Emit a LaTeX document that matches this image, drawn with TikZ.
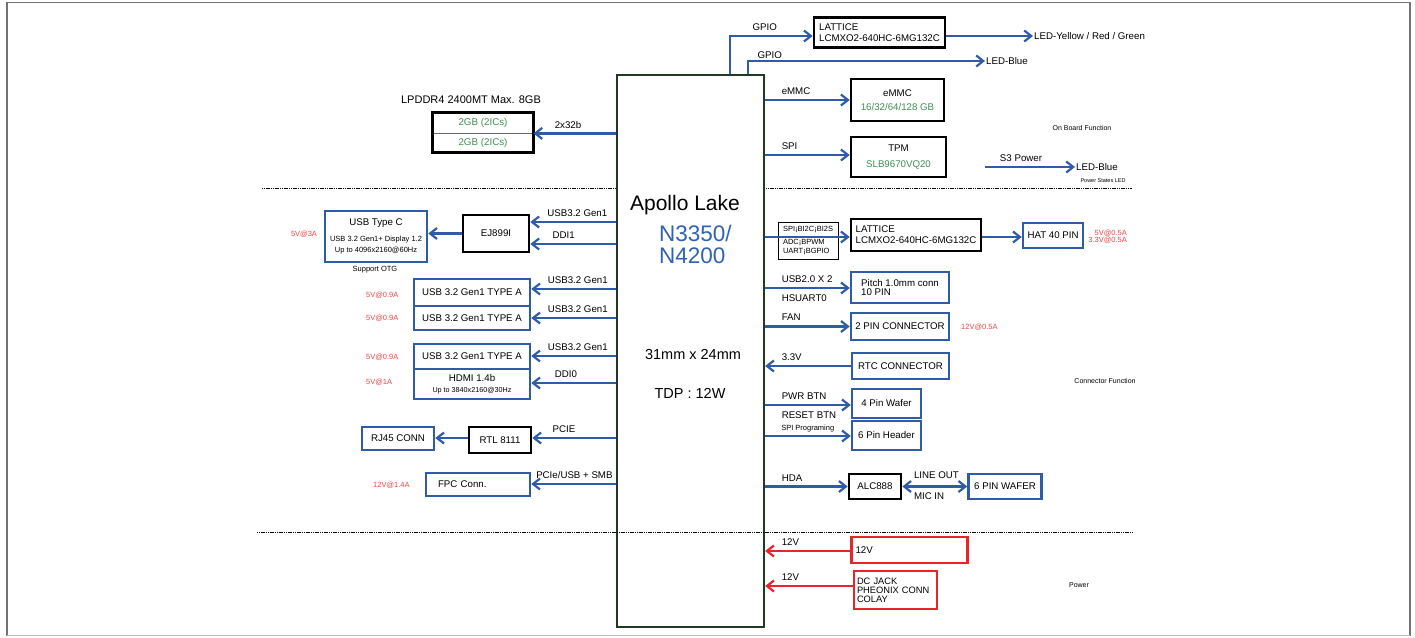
\documentclass[tikz,border=0pt]{standalone}
\usepackage{fontspec}
\setmainfont{Liberation Sans}
\usetikzlibrary{arrows.meta}

\definecolor{busblue}{HTML}{2E5CA8}
\definecolor{partgreen}{HTML}{3F8F4F}
\definecolor{ratered}{HTML}{F04545}
\definecolor{pwrred}{HTML}{E8262A}
\definecolor{socgreen}{HTML}{1F3A22}
\definecolor{numblue}{HTML}{2F62B3}

\newcommand{\sm}{\fontsize{7.5}{9}\selectfont}

\begin{document}
\begin{tikzpicture}[x=1pt,y=-1pt,
		barb/.tip={Straight Barb[length=7pt,width=11pt]},
		txt/.style={font=\fontsize{9.7}{11}\selectfont, inner sep=1.5pt},
		tiny/.style={font=\sm, inner sep=1pt},
		rate/.style={tiny, text=ratered},
		lbl/.style={txt, text height=7pt, text depth=2.5pt},
		rlbl/.style={lbl, above right, xshift=14pt},
		sz/.style 2 args={minimum width=#1pt, minimum height=#2pt},
		bus/.style={draw=busblue, line width=2.2pt, -barb},
		pwrbus/.style={bus, draw=pwrred},
		icbox/.style={txt, draw=black, line width=2.6pt, fill=white},
		conbox/.style={txt, draw=busblue, line width=2.5pt, fill=white},
		pwrbox/.style={txt, draw=pwrred, line width=2.5pt, fill=white},
		sep/.style={black, line width=0.6pt, dash pattern=on 1.2pt off 0.6pt}]
	\useasboundingbox (0,0) rectangle (1415,637);
	
	% Outer frame
	\draw[black!55, line width=1.5pt] (7,636) -- (7,2.5) -- (1410,2.5) -- (1410,636);
	\draw[black!25, line width=1.5pt] (7,635.5) -- (1410,635.5);
	
	% Upper separator, hidden by the SoC
	\draw[sep] (262,188) -- (1132,188);
	
	% The SoC
	\node[draw=socgreen, line width=2.3pt, fill=white, sz={147}{552}] (soc) at (690.5,351) {};
	\node[font=\fontsize{21}{24}\selectfont] (socname) at (685,205) {Apollo Lake};
	\node[font=\fontsize{22.5}{22}\selectfont, text=numblue, align=left, anchor=west, inner sep=0pt] (socsku) at (659,244) {N3350/\\N4200};
	\node[font=\fontsize{14.5}{16}\selectfont] (socsize) at (693,355) {31mm x 24mm};
	\node[font=\fontsize{14.5}{16}\selectfont] (soctdp) at (690,393) {TDP : 12W};
	
	% Memory
	\node[txt, font=\fontsize{11}{12}\selectfont] (ddrlbl) at (471,100) {LPDDR4 2400MT Max. 8GB};
	\node[txt, font=\fontsize{9.8}{11}\selectfont, text=partgreen, draw=black!60, line width=0.8pt, sz={100}{20}] (memA) at (483,123) {2GB (2ICs)};
	\node[txt, font=\fontsize{9.8}{11}\selectfont, text=partgreen, draw=black!60, line width=0.8pt, sz={100}{19}] (memB) at (483,142.5) {2GB (2ICs)};
	\draw[black, line width=2.6pt] (memA.north west) rectangle (memB.south east);
	\draw[bus] (soc.west |- memA.south east) -- (memA.south east) node[lbl, above, pos=.58] {2x32b};
	
	% On board functions
	\node[icbox, sz={131}{30}, align=left] (fpga1) at (879.5,32.5) {LATTICE\\LCMXO2-640HC-6MG132C};
	\node[txt, anchor=west, inner sep=1pt] (ledrgb) at (1033,36) {LED-Yellow / Red / Green};
	\node[txt, anchor=west, inner sep=1pt] (ledb1) at (985,61) {LED-Blue};
	\node[icbox, sz={93}{42}, align=center] (emmc) at (897.5,100) {eMMC\\[3pt]\textcolor{partgreen}{16/32/64/128 GB}};
	\node[icbox, sz={95}{40}, align=center] (tpm) at (898.5,157) {TPM\\[5pt]\textcolor{partgreen}{SLB9670VQ20}};
	\node[font=\fontsize{7}{8}\selectfont] (obf) at (1082,128) {On Board Function};
	\coordinate (s3) at (985,167);
	\node[txt, anchor=west, inner sep=1pt] (ledb2) at (1075,167) {LED-Blue};
	\node[font=\fontsize{5.5}{6}\selectfont] (psled) at (1103,181) {Power States LED};
	
	\draw[bus] (soc.north -| 730,0) |- (fpga1.west |- 0,36) node[lbl, above, pos=.71] {GPIO};
	\draw[bus] (fpga1.east |- ledrgb.west) -- (ledrgb.west);
	\draw[bus] (soc.north -| 748,0) |- (ledb1.west) node[lbl, above, pos=.546, yshift=-2.5pt] {GPIO};
	\draw[bus] (soc.east |- emmc.west) -- (emmc.west) node[rlbl, pos=0] {eMMC};
	\draw[bus] (soc.east |- 0,155) -- (tpm.west |- 0,155) node[rlbl, pos=0] {SPI};
	\draw[bus] (s3) -- (ledb2.west) node[lbl, above, pos=.4] {S3 Power};
	
	% USB type C and type A ports
	\node[rate] (usbcpwr) at (304,234) {5V@3A};
	\node[conbox, sz={102}{51}, align=center] (usbc) at (376,236.5) {USB Type C\\[5pt]\sm USB 3.2 Gen1+ Display 1.2\\\sm Up to 4096x2160@60Hz};
	\node[tiny] (otg) at (375,270) {Support OTG};
	\node[icbox, sz={66}{37}] (ej) at (496,233.5) {EJ899I};
	\draw[bus] (soc.west |- 0,222) -- (ej.east |- 0,222) node[lbl, above, pos=.45] {USB3.2 Gen1};
	\draw[bus] (soc.west |- 0,244) -- (ej.east |- 0,244) node[lbl, above, pos=.61] {DDI1};
	\draw[bus] (ej.west) -- (usbc.east |- ej.west);
	
	\node[conbox, sz={116}{27}] (usba1) at (472,292.5) {USB 3.2 Gen1 TYPE A};
	\node[conbox, sz={116}{24}] (usba2) at (472,318) {USB 3.2 Gen1 TYPE A};
	\node[conbox, sz={116}{25}] (usba3) at (472,356.5) {USB 3.2 Gen1 TYPE A};
	\node[conbox, sz={116}{30}, align=center] (hdmi) at (472,384) {HDMI 1.4b\\\fontsize{7.2}{9}\selectfont Up to 3840x2160@30Hz};
	\node[rate, anchor=west] (usba1pwr) at (365,295) {5V@0.9A};
	\node[rate, anchor=west] (usba2pwr) at (365,318) {5V@0.9A};
	\node[rate, anchor=west] (usba3pwr) at (365,357) {5V@0.9A};
	\node[rate, anchor=west] (hdmipwr) at (365,382) {5V@1A};
	\draw[bus] (soc.west |- 0,289) -- (usba1.east |- 0,289) node[lbl, above, pos=.45] {USB3.2 Gen1};
	\draw[bus] (soc.west |- 0,318) -- (usba2.east |- 0,318) node[lbl, above, pos=.45] {USB3.2 Gen1};
	\draw[bus] (soc.west |- 0,356) -- (usba3.east |- 0,356) node[lbl, above, pos=.45] {USB3.2 Gen1};
	\draw[bus] (soc.west |- 0,383) -- (hdmi.east |- 0,383) node[lbl, above, pos=.59] {DDI0};
	
	% LAN and FPC
	\node[icbox, sz={62}{26}] (rtl) at (500,440) {RTL 8111};
	\node[conbox, sz={72}{23}] (rj45) at (398,438.5) {RJ45 CONN};
	\draw[bus] (soc.west |- 0,438) -- (rtl.east |- 0,438) node[lbl, above, pos=.62] {PCIE};
	\draw[bus] (rtl.west |- 0,438) -- (rj45.east |- 0,438);
	\node[conbox, sz={104}{23}, text width=80pt, inner xsep=12pt, align=left] (fpc) at (478,484.5) {FPC Conn.};
	\node[rate, anchor=west] (fpcpwr) at (372,485) {12V@1.4A};
	\draw[bus] (soc.west |- 0,484) -- (fpc.east |- 0,484) node[lbl, above, pos=.49] {PCIe/USB + SMB};
	
	% Connector functions
	\node[draw=black, line width=0.8pt, fill=white, sz={60}{37}, align=left, font=\fontsize{7.5}{9}\selectfont, inner sep=1.5pt] (gpiosel) at (808,240.5) {SPI¡BI2C¡BI2S\\[4pt]ADC¡BPWM\\UART¡BGPIO};
	\node[icbox, sz={130}{32}, align=left] (fpga2) at (916,235) {LATTICE\\LCMXO2-640HC-6MG132C};
	\node[conbox, sz={60}{25}] (hat) at (1053,235.5) {HAT 40 PIN};
	\node[rate, align=right, anchor=east, font=\fontsize{7.5}{7}\selectfont] (hatpwr) at (1128,236.5) {5V@0.5A\\3.3V@0.5A};
	\draw[bus] (soc.east |- 0,237) -- (fpga2.west |- 0,237);
	\draw[bus] (fpga2.east |- 0,237) -- (hat.west |- 0,237);
	
	\node[conbox, sz={98}{31}, align=left, font=\fontsize{9.7}{9.5}\selectfont] (pitch) at (900,287.5) {Pitch 1.0mm conn\\ 10 PIN};
	\draw[bus] (soc.east |- 0,288) -- (pitch.west |- 0,288) node[rlbl, pos=0] {USB2.0 X 2} node[lbl, below right, xshift=14pt, yshift=-4pt, pos=0] {HSUART0};
	\node[conbox, sz={98}{27}] (fan) at (900,326.5) {2 PIN CONNECTOR};
	\node[rate, anchor=west] (fanpwr) at (960,327) {12V@0.5A};
	\draw[bus] (soc.east |- fan.west) -- (fan.west) node[rlbl, pos=0, yshift=1pt] {FAN};
	\node[conbox, sz={97}{26}] (rtc) at (900.5,366) {RTC CONNECTOR};
	\draw[bus] (rtc.west) -- (soc.east |- rtc.west) node[rlbl, pos=1] {3.3V};
	\node[font=\fontsize{7}{8}\selectfont] (cnf) at (1105,381) {Connector Function};
	\node[conbox, sz={69}{29}] (pwrbtn) at (886.5,403.5) {4 Pin Wafer};
	\draw[bus] (soc.east |- 0,405) -- (pwrbtn.west |- 0,405) node[rlbl, pos=0] {PWR BTN} node[lbl, below right, xshift=14pt, yshift=-4pt, pos=0] {RESET BTN};
	\node[conbox, sz={69}{29}] (spihdr) at (886.5,435.5) {6 Pin Header};
	\draw[bus] (soc.east |- 0,436) -- (spihdr.west |- 0,436) node[tiny, above right, xshift=14pt, yshift=1.5pt, pos=0] {SPI Programing};
	
	% Audio
	\node[icbox, sz={52}{25}] (alc) at (875,486.5) {ALC888};
	\node[conbox, sz={73}{25}] (wafer6) at (1005,486.5) {6 PIN WAFER};
	\draw[bus] (soc.east |- alc.west) -- (alc.west) node[rlbl, pos=0] {HDA};
	\draw[bus, barb-barb] (alc.east) -- (wafer6.west) node[lbl, above right, pos=.14, yshift=3pt] {LINE OUT} node[lbl, below right, pos=.14, yshift=-3pt] {MIC IN};
	
	% Lower separator, across the SoC
	\draw[sep] (257,532) -- (1132,532);
	
	% Power input
	\node[pwrbox, sz={116}{26}, text width=108pt, inner xsep=4pt, align=left] (pwr12) at (909.5,550) {12V};
	\node[pwrbox, sz={83}{38}, text width=77pt, inner xsep=3pt, align=left, font=\fontsize{9.3}{9}\selectfont] (dcjack) at (895.5,590) {DC JACK\\PHEONIX CONN\\COLAY};
	\node[font=\fontsize{7}{8}\selectfont] (pwrlbl) at (1079,585) {Power};
	\draw[pwrbus] (pwr12.west |- 0,551) -- (soc.east |- 0,551) node[rlbl, pos=1] {12V};
	\draw[pwrbus] (dcjack.west |- 0,586) -- (soc.east |- 0,586) node[rlbl, pos=1] {12V};
\end{tikzpicture}
\end{document}
